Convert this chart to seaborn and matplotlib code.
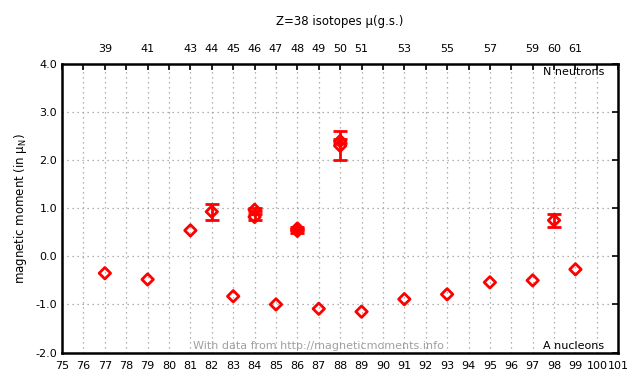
import numpy as np
import pandas as pd
import seaborn as sns
import matplotlib
matplotlib.use("Agg")
import matplotlib.pyplot as plt
from matplotlib.ticker import MultipleLocator, FormatStrFormatter

# =============================
# Data (Sr, Z=38)
# =============================
mass_number = [77, 79, 81, 82, 83, 84, 84, 85, 86, 86, 87, 88, 88, 89, 91, 93, 95, 97, 98, 99]
moment = [-0.35, -0.48, 0.54, 0.93, -0.83, 0.97, 0.82, -1.00, 0.58, 0.53,
          -1.09, 2.40, 2.30, -1.15, -0.89, -0.79, -0.54, -0.50, 0.75, -0.27]
moment_err = [0.0, 0.0, 0.0, 0.17, 0.0, 0.03, 0.07, 0.0, 0.03, 0.04,
              0.0, 0.05, 0.30, 0.0, 0.0, 0.0, 0.0, 0.0, 0.14, 0.0]
Z = 38

df = pd.DataFrame({"A": mass_number, "mu": moment, "err": moment_err})

# =============================
# Style
# =============================
sns.set_style("white")
plt.rcParams["font.family"] = ["DejaVu Sans"]
plt.rcParams["axes.unicode_minus"] = False
plt.rcParams["text.color"] = "black"
plt.rcParams["axes.labelcolor"] = "black"

fig = plt.figure(figsize=(6.4, 3.84), dpi=100)
ax = fig.add_axes([0.097, 0.082, 0.869, 0.751])

# error bars first, then diamonds on top
eb = df[df["err"] > 0]
ax.errorbar(eb["A"], eb["mu"], yerr=eb["err"], fmt="none", ecolor="red",
            elinewidth=2, capsize=5, capthick=2, zorder=3)
sns.scatterplot(data=df, x="A", y="mu", ax=ax, marker="D", s=34,
                facecolors="none", edgecolor="red", linewidth=2, zorder=4,
                legend=False)

# =============================
# Axes
# =============================
ax.set_xlim(75, 101)
ax.set_ylim(-2.0, 4.0)
ax.xaxis.set_major_locator(MultipleLocator(1))
ax.yaxis.set_major_locator(MultipleLocator(1))
ax.yaxis.set_major_formatter(FormatStrFormatter("%.1f"))
ax.tick_params(axis="both", direction="in", length=4, width=1.2, labelsize=8,
               top=True, right=True, colors="black")
ax.tick_params(axis="x", pad=6)
ax.grid(True, color="#999999", linestyle=(0, (1, 3)), linewidth=0.9)
for s in ax.spines.values():
    s.set_linewidth(1.8)
    s.set_color("black")

ax.set_xlabel("")
ax.set_ylabel("magnetic moment (in $\\mathregular{\\mu_N}$)", fontsize=8.5, labelpad=5)

# top axis: neutron numbers at data positions
top = ax.secondary_xaxis("top")
top_pos = sorted(set(mass_number))
top.set_xticks(top_pos)
top.set_xticklabels([str(a - Z) for a in top_pos])
top.tick_params(length=0, labelsize=8, pad=7, colors="black")
top.spines["top"].set_visible(False)

ax.set_title("Z=38 isotopes \u03bc(g.s.)", fontsize=8.5, pad=28, color="black")

ax.text(0.975, 0.99, "N neutrons", transform=ax.transAxes, ha="right", va="top", fontsize=8)
ax.text(0.975, 0.005, "A nucleons", transform=ax.transAxes, ha="right", va="bottom", fontsize=8)
ax.text(0.235, 0.005, "With data from http://magneticmoments.info", transform=ax.transAxes,
        ha="left", va="bottom", fontsize=8, color="#a0a0a0")

fig.savefig("out.png", dpi=100)
